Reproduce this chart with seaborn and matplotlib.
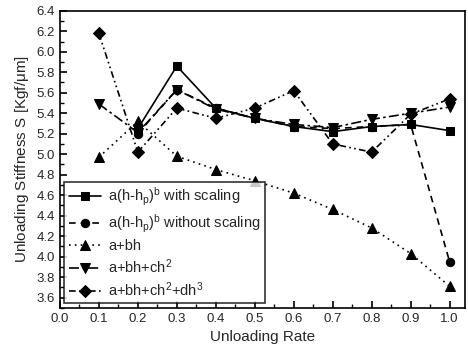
import matplotlib
matplotlib.use("Agg")
import matplotlib.pyplot as plt
import seaborn as sns
import pandas as pd
from matplotlib.ticker import MultipleLocator

sns.set_theme(style="ticks")
plt.rcParams['font.family'] = ['Liberation Sans', 'DejaVu Sans']
plt.rcParams['mathtext.fontset'] = 'custom'
plt.rcParams['mathtext.rm'] = 'Liberation Sans'
plt.rcParams['mathtext.it'] = 'Liberation Sans'

rates = [0.1, 0.2, 0.3, 0.4, 0.5, 0.6, 0.7, 0.8, 0.9, 1.0]
with_scaling = [None, 5.25, 5.86, 5.45, 5.35, 5.27, 5.22, 5.27, 5.29, 5.23]
without_scaling = [None, 5.20, 5.63, 5.45, 5.35, 5.27, 5.25, 5.27, 5.29, 3.95]
linear = [4.97, 5.32, 4.98, 4.85, 4.74, 4.62, 4.46, 4.28, 4.03, 3.71]
quadratic = [5.49, 5.21, 5.63, 5.44, 5.35, 5.29, 5.26, 5.34, 5.40, 5.46]
cubic = [6.18, 5.02, 5.45, 5.35, 5.45, 5.62, 5.10, 5.02, 5.39, 5.54]

labels = [r"a(h-h$_p$)$^b$ with scaling",
          r"a(h-h$_p$)$^b$ without scaling",
          "a+bh",
          r"a+bh+ch$^2$",
          r"a+bh+ch$^2$+dh$^3$"]
series = [with_scaling, without_scaling, linear, quadratic, cubic]
markers = ['s', 'o', '^', 'v', 'D']
styles = ['-', (0, (4, 3)), (0, (1, 2.5)), (0, (6, 2, 1.5, 2)), (0, (4, 2, 1, 2, 1, 2))]
msizes = [6, 6, 7, 7, 6]

fig = plt.figure(figsize=(4.68, 3.6), dpi=100)
ax = fig.add_axes([0.128, 0.145, 0.866, 0.825])

for lab, vals, m, ls, ms in zip(labels, series, markers, styles, msizes):
    df = pd.DataFrame({"x": rates, "y": vals}).dropna()
    sns.lineplot(data=df, x="x", y="y", ax=ax, color="black", marker=m,
                 markersize=ms, linestyle=ls, linewidth=1.2, label=lab,
                 markeredgecolor="black")

ax.set_xlim(0.0, 1.04)
ax.set_ylim(3.5, 6.4)
ax.xaxis.set_major_locator(MultipleLocator(0.1))
ax.xaxis.set_minor_locator(MultipleLocator(0.05))
ax.yaxis.set_minor_locator(MultipleLocator(0.1))
ax.set_yticks([3.6 + 0.2 * i for i in range(15)])
ax.tick_params(which='both', direction='in', top=False, right=False, color='black')
ax.tick_params(which='major', length=5, width=1.2, labelsize=9.5)
ax.tick_params(which='minor', length=3, width=1)
ax.xaxis.set_major_formatter(matplotlib.ticker.FormatStrFormatter('%.1f'))
ax.yaxis.set_major_formatter(matplotlib.ticker.FormatStrFormatter('%.1f'))
for s in ax.spines.values():
    s.set_color('black')
    s.set_linewidth(1.2)

ax.set_xlabel("Unloading Rate", fontsize=11)
ax.set_ylabel(r"Unloading Stiffness S [Kgf/$\mu$m]", fontsize=11)

leg = ax.legend(loc='lower left', fontsize=10.5, frameon=True, fancybox=False,
                edgecolor='black', handlelength=2.2, handletextpad=0.5,
                labelspacing=0.3, borderaxespad=0.3, borderpad=0.3)
leg.get_frame().set_linewidth(1.2)

fig.savefig("out.png", dpi=100)
